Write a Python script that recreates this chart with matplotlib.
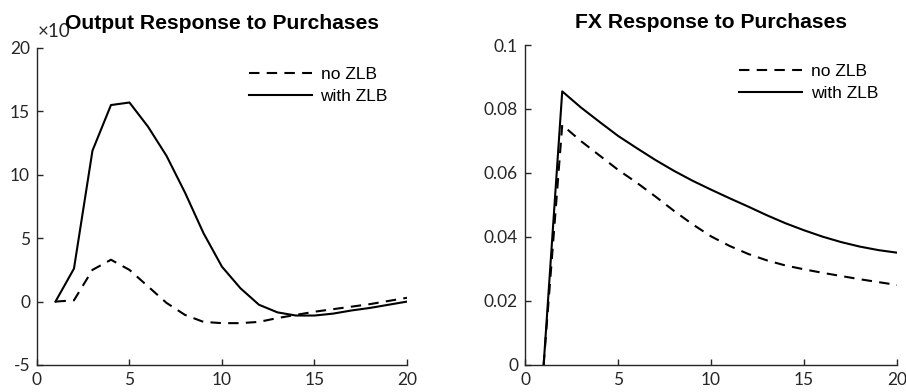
import numpy as np
import matplotlib
matplotlib.use("Agg")
import matplotlib.pyplot as plt

plt.rcParams["axes.unicode_minus"] = False

# horizon (quarters)
periods = np.arange(1, 21)

# output response, in units of 1e-4 (axis shows x10^-4)
output_no_zlb = [0.0, 0.1, 2.5, 3.3, 2.5, 1.2, -0.1, -1.05, -1.6, -1.7,
                 -1.7, -1.6, -1.3, -1.05, -0.8, -0.6, -0.4, -0.2, 0.05, 0.3]
output_zlb = [0.0, 2.6, 11.9, 15.5, 15.7, 13.8, 11.5, 8.6, 5.4, 2.75,
              1.05, -0.25, -0.85, -1.1, -1.1, -0.95, -0.7, -0.5, -0.25, 0.0]

# exchange rate response
fx_no_zlb = [0.0, 0.0750, 0.0700, 0.0655, 0.0610, 0.0570, 0.0527, 0.0482, 0.0440, 0.0402,
             0.0372, 0.0347, 0.0327, 0.0311, 0.0299, 0.0288, 0.0278, 0.0268, 0.0259, 0.0250]
fx_zlb = [0.0, 0.0855, 0.0805, 0.0760, 0.0716, 0.0678, 0.0641, 0.0607, 0.0576, 0.0548,
          0.0521, 0.0495, 0.0468, 0.0443, 0.0421, 0.0401, 0.0384, 0.0370, 0.0359, 0.0351]

xticks = [0, 5, 10, 15, 20]

fig = plt.figure(figsize=(9.06, 3.92), dpi=100)
ax1 = fig.add_axes([0.0408, 0.0689, 0.4084, 0.8087])
ax2 = fig.add_axes([0.5795, 0.0689, 0.4106, 0.8163])

tick_font = "Lato"
title_font = "Liberation Sans"
dash = (0, (5, 3.5))


def style_axes(ax):
    ax.spines["top"].set_visible(False)
    ax.spines["right"].set_visible(False)
    for s in ["left", "bottom"]:
        ax.spines[s].set_linewidth(1.0)
        ax.spines[s].set_color("#262626")
    ax.tick_params(direction="in", length=4, width=1.0, colors="#262626",
                   labelsize=12.5, pad=5)
    for lab in ax.get_xticklabels() + ax.get_yticklabels():
        lab.set_fontfamily(tick_font)
        lab.set_color("#262626")


# left panel
ax1.plot(periods, output_no_zlb, color="black", lw=1.5, ls=dash, label="no ZLB")
ax1.plot(periods, output_zlb, color="black", lw=1.5, label="with ZLB")
ax1.set_xlim(0, 20)
ax1.set_ylim(-5, 20)
ax1.set_xticks(xticks)
ax1.set_yticks([-5, 0, 5, 10, 15, 20])
style_axes(ax1)
ax1.text(0.002, 1.025, "\u00d710", transform=ax1.transAxes, fontsize=13.5,
         fontfamily=tick_font, color="#262626", ha="left", va="bottom")
ax1.set_title("Output Response to Purchases", fontsize=15.2, fontweight="bold",
              fontfamily=title_font, pad=14)

# right panel
ax2.plot(periods, fx_no_zlb, color="black", lw=1.5, ls=dash, label="no ZLB")
ax2.plot(periods, fx_zlb, color="black", lw=1.5, label="with ZLB")
ax2.set_xlim(0, 20)
ax2.set_ylim(0, 0.1)
ax2.set_xticks(xticks)
ax2.set_yticks([0, 0.02, 0.04, 0.06, 0.08, 0.1])
ax2.set_yticklabels(["0", "0.02", "0.04", "0.06", "0.08", "0.1"])
style_axes(ax2)
ax2.set_title("FX Response to Purchases", fontsize=15.2, fontweight="bold",
              fontfamily=title_font, pad=12)

for ax in (ax1, ax2):
    ax.legend(loc="upper right", frameon=False, handlelength=3.6, handletextpad=0.5,
              labelspacing=0.4, borderaxespad=0.7,
              prop={"family": title_font, "size": 12.5})

fig.savefig("out.png", dpi=100)
